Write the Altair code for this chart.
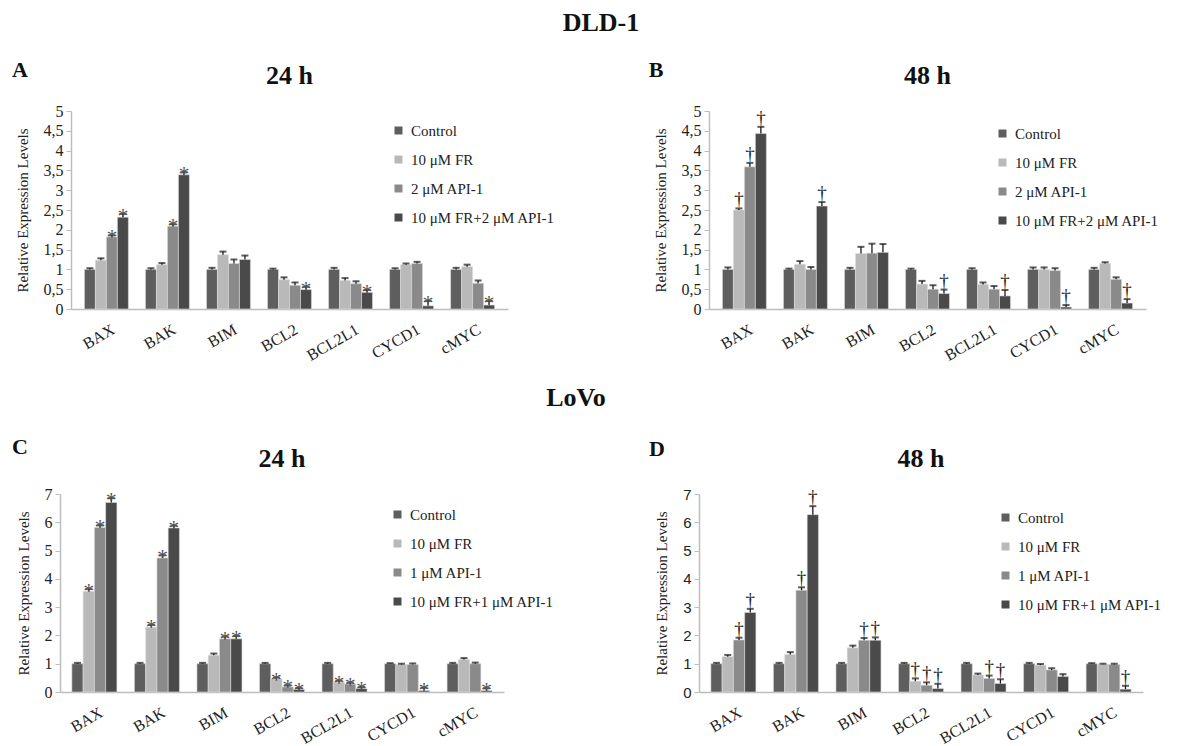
import altair as alt
import pandas as pd

genes = ["BAX", "BAK", "BIM", "BCL2", "BCL2L1", "CYCD1", "cMYC"]
series_dld = ["Control", "10 μM FR", "2 μM API-1", "10 μM FR+2 μM API-1"]
series_lovo = ["Control", "10 μM FR", "1 μM API-1", "10 μM FR+1 μM API-1"]
colors = ["#5e5e5e", "#b9b9b9", "#8a8a8a", "#4a4a4a"]

# Panel A: DLD-1, 24 h  (per gene: Control, FR, API-1, FR+API-1)
a_vals = [[1.0, 1.23, 1.82, 2.32], [1.0, 1.12, 2.09, 3.39], [1.0, 1.37, 1.15, 1.25],
          [1.0, 0.74, 0.60, 0.49], [1.0, 0.72, 0.64, 0.42], [1.0, 1.12, 1.15, 0.08],
          [1.0, 1.07, 0.65, 0.10]]
a_err = [[0.03, 0.05, 0.04, 0.08], [0.03, 0.04, 0.05, 0.06], [0.04, 0.08, 0.10, 0.10],
         [0.02, 0.06, 0.07, 0.07], [0.04, 0.06, 0.06, 0.06], [0.03, 0.03, 0.04, 0.12],
         [0.04, 0.05, 0.07, 0.10]]
a_sig = [["", "", "*", "*"], ["", "", "*", "*"], ["", "", "", ""], ["", "", "", "*"],
         ["", "", "", "*"], ["", "", "", "*"], ["", "", "", "*"]]

# Panel B: DLD-1, 48 h
b_vals = [[1.0, 2.50, 3.59, 4.43], [1.0, 1.13, 1.00, 2.60], [1.0, 1.40, 1.41, 1.43],
          [1.0, 0.63, 0.50, 0.39], [1.0, 0.62, 0.50, 0.33], [1.0, 1.00, 0.97, 0.05],
          [1.0, 1.15, 0.75, 0.15]]
b_err = [[0.05, 0.04, 0.10, 0.17], [0.02, 0.08, 0.06, 0.10], [0.04, 0.17, 0.24, 0.21],
         [0.02, 0.08, 0.10, 0.10], [0.03, 0.05, 0.08, 0.15], [0.05, 0.05, 0.06, 0.05],
         [0.04, 0.03, 0.05, 0.10]]
b_sig = [["", "†", "†", "†"], ["", "", "", "†"], ["", "", "", ""], ["", "", "", "†"],
         ["", "", "", "†"], ["", "", "", "†"], ["", "", "", "†"]]

# Panel C: LoVo, 24 h
c_vals = [[1.0, 3.56, 5.82, 6.70], [1.0, 2.29, 4.74, 5.80], [1.0, 1.30, 1.88, 1.88],
          [1.0, 0.46, 0.18, 0.09], [1.0, 0.35, 0.28, 0.12], [1.0, 0.97, 0.97, 0.05],
          [1.0, 1.15, 1.00, 0.05]]
c_err = [[0.03, 0.08, 0.07, 0.15], [0.03, 0.08, 0.09, 0.08], [0.03, 0.06, 0.08, 0.10],
         [0.03, 0.05, 0.05, 0.05], [0.03, 0.05, 0.05, 0.05], [0.02, 0.03, 0.04, 0.10],
         [0.03, 0.05, 0.04, 0.08]]
c_sig = [["", "*", "*", "*"], ["", "*", "*", "*"], ["", "", "*", "*"], ["", "*", "*", "*"],
         ["", "*", "*", "*"], ["", "", "", "*"], ["", "", "", "*"]]

# Panel D: LoVo, 48 h
d_vals = [[1.0, 1.25, 1.84, 2.81], [1.0, 1.33, 3.60, 6.27], [1.0, 1.56, 1.83, 1.83],
          [1.0, 0.38, 0.24, 0.12], [1.0, 0.60, 0.48, 0.30], [1.0, 0.95, 0.78, 0.55],
          [1.0, 0.98, 0.97, 0.10]]
d_err = [[0.03, 0.06, 0.08, 0.13], [0.03, 0.08, 0.10, 0.30], [0.03, 0.08, 0.08, 0.10],
         [0.03, 0.10, 0.10, 0.17], [0.03, 0.05, 0.10, 0.15], [0.03, 0.04, 0.06, 0.08],
         [0.02, 0.02, 0.03, 0.12]]
d_sig = [["", "", "†", "†"], ["", "", "†", "†"], ["", "", "†", "†"], ["", "†", "†", "†"],
         ["", "", "†", "†"], ["", "", "", ""], ["", "", "", "†"]]

panel_letters = ["A", "B", "C", "D"]
panel_times = ["24 h", "48 h", "24 h", "48 h"]
cell_lines = ["DLD-1", "LoVo"]
y_title = "Relative Expression Levels"

SERIF = "Liberation Serif"
SANS = "Liberation Sans"
PLOT_H = 198


def text_layer(txt, x, y, size, align="center", baseline="middle", weight="bold"):
    return alt.Chart(pd.DataFrame({"t": [txt]})).mark_text(
        font=SERIF, fontSize=size, fontWeight=weight, align=align,
        baseline=baseline, color="#111111"
    ).encode(x=alt.value(x), y=alt.value(y), text="t:N")


def panel(vals, err, sig, series, ymax, width, pad_outer, letter, letter_xy,
          ttl, tick_font, tick_size, legend_xy, main=None):
    rows = []
    for gi, g in enumerate(genes):
        for si, s in enumerate(series):
            rows.append({"gene": g, "series": s, "value": vals[gi][si],
                         "top": vals[gi][si] + err[gi][si], "sig": sig[gi][si]})
    df = pd.DataFrame(rows)
    base = alt.Chart(df)

    xscale = alt.Scale(domain=genes, paddingInner=0.28, paddingOuter=pad_outer)
    x_axis = alt.Axis(
        labelAngle=-30, labelFont=SERIF, labelFontSize=16, labelColor="#222222",
        labelPadding=12, labelOffset=3, ticks=False, domainColor="#bdbdbd",
        domainWidth=1.5, grid=False, title=None)
    x_enc = alt.X("gene:N", scale=xscale, title=None, axis=x_axis)
    xo = alt.XOffset("series:N", scale=alt.Scale(domain=series, paddingInner=0, paddingOuter=0))
    yscale = alt.Scale(domain=[0, ymax], nice=False)
    step = 0.5 if ymax <= 5 else 1
    ticks = [i * step for i in range(int(ymax / step) + 1)]
    y_axis = alt.Axis(
        values=ticks, labelExpr="replace(format(datum.value, '~g'), '.', ',')",
        labelFont=tick_font, labelFontSize=tick_size, labelColor="#222222",
        tickColor="#bdbdbd", tickSize=5, domainColor="#bdbdbd", domainWidth=1.5,
        grid=False, title=y_title, titleFont=SERIF, titleFontSize=15,
        titleFontWeight="normal", titleColor="#222222", titlePadding=13, labelPadding=3)
    y_val = alt.Y("value:Q", scale=yscale, title=y_title, axis=y_axis)
    y_top = alt.Y("top:Q", scale=yscale, title=y_title, axis=y_axis)

    bars = base.mark_bar(stroke="#dcdcdc", strokeWidth=0.6).encode(
        x=x_enc, xOffset=xo, y=y_val,
        color=alt.Color("series:N", scale=alt.Scale(domain=series, range=colors),
                        legend=alt.Legend(orient="none", legendX=legend_xy[0],
                                          legendY=legend_xy[1], title=None,
                                          direction="vertical", symbolType="square",
                                          symbolSize=64, symbolStrokeWidth=0,
                                          labelFont=SERIF, labelFontSize=15,
                                          labelColor="#222222", rowPadding=13,
                                          labelOffset=5)))
    rules = base.mark_rule(color="#1a1a1a", strokeWidth=1.3).encode(
        x=x_enc, xOffset=xo, y=y_val, y2="top:Q")
    caps = base.mark_tick(color="#1a1a1a", thickness=2, size=7, orient="horizontal").encode(
        x=x_enc, xOffset=xo, y=y_top)
    is_star = any("*" in s for r in sig for s in r)
    sig_mark = base.transform_filter("datum.sig != ''").mark_text(
        font=SERIF, fontSize=22 if is_star else 19, color="#555555" if is_star else "#222222",
        baseline="alphabetic", dy=9 if is_star else -3
    ).encode(x=x_enc, xOffset=xo, y=y_top, text="sig:N")

    layers = [bars, rules, caps, sig_mark,
              text_layer(letter, letter_xy[0], letter_xy[1], 22),
              text_layer(ttl, width / 2, -27, 26, baseline="alphabetic")]
    if main is not None:
        layers.append(text_layer(main[0], main[1], main[2], 26))
    return alt.layer(*layers).properties(width=width, height=PLOT_H)


def indep(c):
    return c.resolve_scale(color="independent", xOffset="independent").resolve_legend(color="independent")


WA = 437
WC = 444
A = panel(a_vals, a_err, a_sig, series_dld, 5, WA, 0.22, panel_letters[0], (-51, -41),
          panel_times[0], SERIF, 16, (320, 12), main=(cell_lines[0], 530, -88))
B = panel(b_vals, b_err, b_sig, series_dld, 5, WA, 0.22, panel_letters[1], (-53, -41),
          panel_times[1], SERIF, 16, (286, 15))
C = panel(c_vals, c_err, c_sig, series_lovo, 7, WC, 0.19, panel_letters[2], (-40, -47),
          panel_times[2], SERIF, 16, (330, 13), main=(cell_lines[1], 516, -96))
D = panel(d_vals, d_err, d_sig, series_lovo, 7, WC, 0.19, panel_letters[3], (-42, -45),
          panel_times[3], SANS, 15, (299, 16))

spacer = alt.Chart(pd.DataFrame({"a": [0]})).mark_point(opacity=0).properties(width=11, height=PLOT_H)

top_pair = indep(alt.hconcat(A, B, spacing=201, bounds="flush"))
row1 = indep(alt.hconcat(spacer, top_pair, spacing=0, bounds="flush"))
row2 = indep(alt.hconcat(C, D, spacing=195, bounds="flush"))

chart = indep(alt.vconcat(row1, row2, spacing=383, bounds="flush")).properties(
    padding={"left": 4, "top": 2, "right": 5, "bottom": 0},
    background="white"
).configure_view(stroke=None).configure_axis(
    labelFont=SERIF, titleFont=SERIF, titleFontSize=15,
    titleFontWeight="normal", labelColor="#222222", titleColor="#222222"
)

chart.save("out.html", embed_options={"renderer": "svg", "actions": False})
